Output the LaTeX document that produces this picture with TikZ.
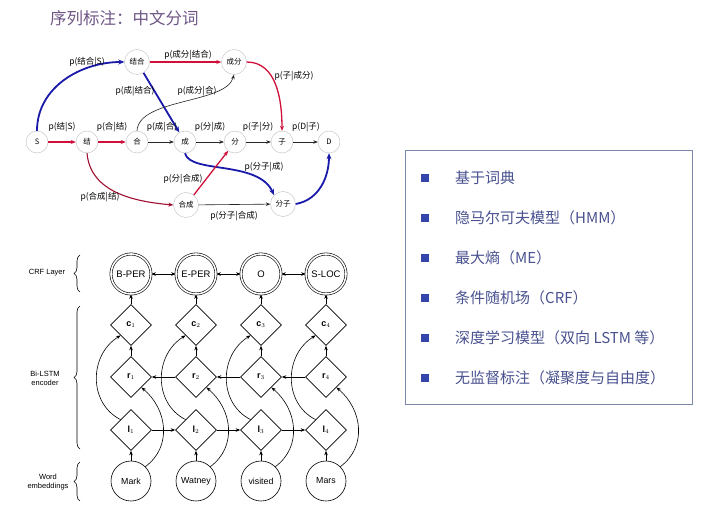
\documentclass[tikz,border=0pt]{standalone}
\usepackage{fontspec}
\setmainfont{Liberation Sans}
\newfontfamily\cjk{Noto Sans CJK SC}
\usetikzlibrary{shapes.geometric,arrows.meta,decorations.pathreplacing}
\definecolor{titlec}{HTML}{6F5585}
\definecolor{blueE}{HTML}{1A1AAA}
\definecolor{redE}{HTML}{D0103A}
\definecolor{dredE}{HTML}{A01030}
\definecolor{boxc}{HTML}{7A8AA8}
\definecolor{itemc}{HTML}{4A5290}
\definecolor{bulc}{HTML}{3344AA}
\tikzset{
  gn/.style={circle,draw=black!25,fill=white,minimum size=22,inner sep=0,font=\cjk\fontsize{7.5}{8}\selectfont},
  gnw/.style={gn,minimum size=25},
  lab/.style={inner sep=0,font=\cjk\fontsize{8.5}{9}\selectfont},
  bl/.style={draw=blueE,line width=1.8,-{Stealth[length=6,width=5]}},
  rd/.style={draw=redE,line width=1.3,-{Stealth[length=5,width=4]}},
  drd/.style={draw=dredE,line width=1.1,-{Stealth[length=5,width=4]}},
  bk/.style={draw=black!85,line width=0.6,-{Stealth[length=4.5,width=3.5]}},
  crf/.style={circle,draw,double,double distance=1.6,minimum size=40,inner sep=0,font=\fontsize{9.5}{10}\selectfont,line width=0.6},
  dia/.style={diamond,draw,minimum size=41,inner sep=0,aspect=1,font=\fontsize{9}{10}\selectfont,line width=0.6},
  wrd/.style={circle,draw,minimum size=40,inner sep=0,font=\fontsize{8.8}{10}\selectfont,line width=0.6},
  ar/.style={draw,line width=0.6,-{Stealth[length=4.5,width=3.5]}},
  brc/.style={draw,line width=0.6,decorate,decoration={brace,amplitude=6}},
  side/.style={align=center,inner sep=0,font=\fontsize{7.5}{9}\selectfont},
  item/.style={anchor=west,inner sep=0,text=itemc,font=\cjk\fontsize{15}{16}\selectfont},
  bul/.style={fill=bulc,minimum width=8,minimum height=7.5,inner sep=0}
}
\begin{document}
\begin{tikzpicture}[x=1pt,y=-1pt]
\useasboundingbox (0,0) rectangle (728,505);
\fill[white] (0,0) rectangle (728,505);
% title
\node[anchor=west,inner sep=0,text=titlec,font=\cjk\fontsize{16.5}{18}\selectfont] (title) at (50,18) {序列标注：中文分词};
% ---------- top graph ----------
\node[gn] (S) at (37,142) {S};
\node[gn] (j) at (87,142) {结};
\node[gn] (h) at (137,142) {合};
\node[gn] (c) at (185,142) {成};
\node[gn] (f) at (235,142) {分};
\node[gn] (z) at (282,142) {子};
\node[gn] (D) at (329,142) {D};
\node[gnw] (jh) at (137,62) {结合};
\node[gnw] (cf) at (234,62) {成分};
\node[gnw] (hc) at (186,205) {合成};
\node[gnw] (fz) at (283,204) {分子};
\draw[rd] (S) -- (j);
\draw[rd] (j) -- (h);
\draw[bk] (h) -- (c);
\draw[bk] (c) -- (f);
\draw[bk] (f) -- (z);
\draw[bk] (z) -- (D);
\draw[bl] (S.north) to[out=90,in=180] (jh.west);
\draw[rd] (jh) -- (cf);
\draw[bl] (jh) -- (c);
\draw[bk] (h.north) .. controls (139,98) and (226,104) .. (cf.south);
\draw[rd] (cf.east) to[out=0,in=90] (z.north);
\draw[bl] (c.south) .. controls (190,174) and (258,160) .. (fz.north west);
\draw[rd] (hc) -- (f);
\draw[drd] (j.south) to[out=-85,in=175] (hc.west);
\draw[bl] (fz.east) to[out=10,in=-90] (D.south);
\draw[bk] (hc) -- (fz);
\node[lab] (l1) at (87,62) {p(结合|S)};
\node[lab] (l2) at (188,55) {p(成分|结合)};
\node[lab] (l3) at (135,91) {p(成|结合)};
\node[lab] (l4) at (197,91) {p(成分|合)};
\node[lab] (l5) at (294,76) {p(子|成分)};
\node[lab] (l6) at (62,127) {p(结|S)};
\node[lab] (l7) at (112,127) {p(合|结)};
\node[lab] (l8) at (162,127) {p(成|合)};
\node[lab] (l9) at (210,127) {p(分|成)};
\node[lab] (l10) at (258,127) {p(子|分)};
\node[lab] (l11) at (306,127) {p(D|子)};
\node[lab] (l12) at (264,167) {p(分子|成)};
\node[lab] (l13) at (183,179) {p(分|合成)};
\node[lab] (l14) at (100,197) {p(合成|结)};
\node[lab] (l15) at (234,216) {p(分子|合成)};
% ---------- BiLSTM-CRF ----------
\foreach \i/\x/\t/\w in {1/131/B-PER/Mark,2/196/E-PER/Watney,3/261/O/visited,4/326/S-LOC/Mars}{
  \node[crf] (y\i) at (\x,274) {\t};
  \node[dia] (c\i) at (\x,325) {\textbf{c}$_{\i}$};
  \node[dia] (r\i) at (\x,377) {\textbf{r}$_{\i}$};
  \node[dia] (l\i) at (\x,430) {\textbf{l}$_{\i}$};
  \node[wrd] (w\i) at (\x,481) {\w};
  \draw[ar] (c\i) -- (y\i);
  \draw[ar] (r\i) -- (c\i);
  \draw[ar] (w\i) -- (l\i);
  \draw[ar] (l\i.north west) .. controls ([shift={(-32,-16)}]l\i.north west) and ([shift={(-32,20)}]c\i.south west) .. (c\i.south west);
  \draw[ar] (w\i.north east) .. controls ([shift={(27,-20)}]w\i.north east) and ([shift={(26,22)}]r\i.south east) .. (r\i.south east);
}
\foreach \a/\b in {1/2,2/3,3/4}{
  \draw[draw,line width=0.6,{Stealth[length=4.5,width=3.5]}-{Stealth[length=4.5,width=3.5]}] (y\a) -- (y\b);
  \draw[ar] (r\b) -- (r\a);
  \draw[ar] (l\a) -- (l\b);
}
\draw[brc] (80,292) -- (80,255);
\draw[brc] (80,449) -- (80,306);
\draw[brc] (80,501) -- (80,462);
\node[side] (t1) at (47,273) {CRF Layer};
\node[side] (t2) at (45,378) {Bi-LSTM\\encoder};
\node[side] (t3) at (48,482) {Word\\embeddings};
% ---------- right box ----------
\node[draw=boxc,line width=0.6,minimum width=287,minimum height=254,inner sep=0,anchor=north west] (box) at (405,150) {};
\foreach \k/\y/\t in {1/178/基于词典,2/218/隐马尔可夫模型（HMM）,3/258/最大熵（ME）,4/298/条件随机场（CRF）,5/338/深度学习模型（双向 LSTM 等）,6/378/无监督标注（凝聚度与自由度）}{
  \node[bul] (b\k) at (424.5,\y) {};
  \node[item] (i\k) at (455,\y) {\t};
}
\end{tikzpicture}
\end{document}
